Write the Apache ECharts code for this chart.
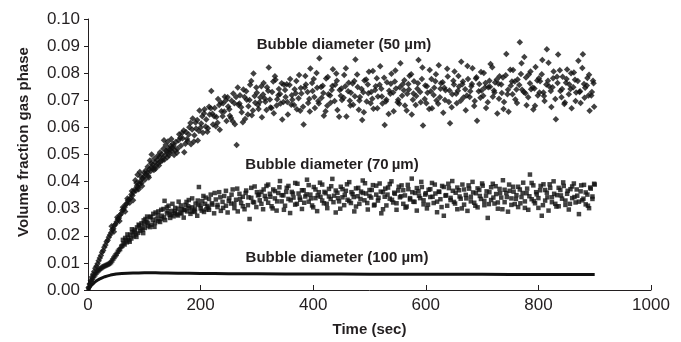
<!DOCTYPE html>
<html>
<head>
<meta charset="utf-8">
<script src="https://cdn.jsdelivr.net/npm/echarts@6/dist/echarts.min.js"></script>
<style>
html,body{margin:0;padding:0;background:#fff;}
#chart{width:681px;height:342px;}
</style>
</head>
<body>
<div id="chart"></div>
<script>
// ---------- data ----------
var xTicks = [0, 200, 400, 600, 800, 1000];
var yTicks = [0.00, 0.01, 0.02, 0.03, 0.04, 0.05, 0.06, 0.07, 0.08, 0.09, 0.10];
var seriesNames = ['Bubble diameter (50 \u00b5m)', 'Bubble diameter (70\u2009\u00b5m)', 'Bubble diameter (100 \u00b5m)'];

// 50 um : [time (s), volume fraction]
var d50 = [
[1,.0008],[3,.0022],[5,.0035],[7,.0048],[9,.0058],[11,.0068],[13,.0080],[15,.0088],[17,.0097],[19,.0108],
[21,.0118],[23,.0127],[25,.0139],[27,.0146],[29,.0158],[31,.0166],[33,.0178],[35,.0184],[37,.0195],[39,.0203],
[41,.0211],[43,.0222],[45,.0226],[47,.0238],[49,.0244],[51,.0252],[53,.0261],[55,.0266],[57,.0277],[59,.0281],
[61,.0293],[63,.0297],[65,.0305],[67,.0316],[69,.0318],[71,.0330],[73,.0334],[75,.0338],[77,.0352],[79,.0349],
[81,.0362],[83,.0371],[85,.0366],[87,.0384],[89,.0379],[91,.0392],[93,.0401],[95,.0395],[97,.0412],[99,.0418],
[101,.0407],[103,.0428],[105,.0433],[107,.0421],[109,.0446],[111,.0438],[113,.0452],[115,.0462],[117,.0443],[119,.0471],
[121,.0458],[123,.0480],[125,.0468],[127,.0492],[129,.0474],[131,.0501],[133,.0486],[135,.0553],[137,.0497],[139,.0514],
[141,.0490],[143,.0522],[145,.0506],[147,.0531],[149,.0512],[151,.0540],
[84,.0405],[88,.0425],[92,.0435],[110,.0478],[113,.0500],
[153,.0498],[156,.0546],[159,.0521],[162,.0575],[165,.0532],[168,.0560],[171,.0508],[174,.0583],[177,.0549],[180,.0601],
[183,.0538],[186,.0633],[189,.0571],[192,.0596],[195,.0552],[198,.0662],[201,.0614],[204,.0580],[207,.0667],[210,.0629],
[213,.0597],[216,.0648],[219,.0734],[222,.0611],[225,.0672],[228,.0638],[231,.0705],[234,.0591],[237,.0660],[240,.0689],
[243,.0713],[246,.0624],[249,.0677],[252,.0643],[255,.0698],[258,.0725],[261,.0612],[264,.0535],[267,.0684],[270,.0719],
[273,.0656],[276,.0740],[279,.0631],[282,.0702],[285,.0678],[288,.0757],[291,.0645],[294,.0799],[297,.0691],[300,.0728],
[303,.0668],[306,.0710],[309,.0637],[312,.0764],[315,.0695],[318,.0748],[321,.0821],[324,.0673],[327,.0731],[330,.0652],
[333,.0776],[336,.0704],[339,.0742],[342,.0688],[345,.0629],[348,.0757],
[155,.0515],[161,.0553],[167,.0579],[173,.0540],[179,.0574],[185,.0592],[191,.0618],[197,.0587],[203,.0641],[209,.0603],
[215,.0676],[221,.0650],[227,.0604],[233,.0683],[239,.0641],[245,.0700],[251,.0667],[257,.0623],[263,.0712],[269,.0688],
[275,.0619],[281,.0733],[287,.0701],[293,.0662],[299,.0747],[305,.0694],[311,.0721],[317,.0664],[323,.0703],[329,.0769],
[335,.0681],[341,.0723],[347,.0694],
[351,.0712],[355,.0648],[359,.0779],[363,.0702],[367,.0741],[371,.0667],[375,.0793],[379,.0725],[383,.0611],[387,.0758],
[391,.0690],[395,.0817],[399,.0734],[403,.0672],[407,.0746],[411,.0855],[415,.0709],[419,.0643],[423,.0780],[427,.0722],
[431,.0691],[435,.0815],[439,.0757],[443,.0664],[447,.0738],[451,.0701],[455,.0793],[459,.0640],[463,.0765],[467,.0728],
[471,.0684],[475,.0851],[479,.0749],[483,.0712],[487,.0627],[491,.0773],[495,.0696],[499,.0805],[503,.0731],[507,.0669],
[511,.0752],[515,.0714],[519,.0826],[523,.0688],[527,.0609],[531,.0767],[535,.0735],[539,.0798],[543,.0660],[547,.0744],
[551,.0702],[555,.0837],[559,.0759],[563,.0681],[567,.0724],[571,.0791],[575,.0648],[579,.0770],[583,.0716],[587,.0849],
[591,.0693],[595,.0607],[599,.0755],[603,.0728],[607,.0812],[611,.0671],[615,.0746],[619,.0699],[623,.0829],[627,.0763],
[631,.0654],[635,.0737],[639,.0788],[643,.0615],[647,.0722],[651,.0806],[655,.0689],[659,.0751],[663,.0842],[667,.0710],
[671,.0663],[675,.0779],[679,.0733],[683,.0818],[687,.0697],[691,.0625],[695,.0760],[699,.0736],[703,.0801],[707,.0672],
[711,.0748],[715,.0834],[719,.0713],[723,.0766],[727,.0651],[731,.0789],[735,.0727],[739,.0694],[743,.0871],[747,.0658],
[751,.0754],[755,.0812],[759,.0703],[763,.0777],[767,.0914],[771,.0739],[775,.0860],[779,.0682],[783,.0795],[787,.0741],
[791,.0666],[795,.0823],[799,.0718],[803,.0770],[807,.0849],[811,.0697],[815,.0888],[819,.0752],[823,.0675],[827,.0806],
[831,.0630],[835,.0869],[839,.0734],[843,.0787],[847,.0692],[851,.0814],[855,.0758],[859,.0671],[863,.0803],[867,.0729],
[871,.0846],[875,.0690],[879,.0870],[883,.0746],[887,.0782],[891,.0661],[895,.0731],[899,.0676],
[353,.0759],[361,.0684],[369,.0726],[377,.0661],[385,.0747],[393,.0705],[401,.0779],[409,.0697],[417,.0754],[425,.0680],
[433,.0738],[441,.0799],[449,.0717],[457,.0752],[465,.0698],[473,.0771],[481,.0665],[489,.0730],[497,.0758],[505,.0706],
[513,.0781],[521,.0743],[529,.0696],[537,.0724],[545,.0769],[553,.0687],[561,.0737],[569,.0760],[577,.0702],[585,.0743],
[593,.0779],[601,.0689],[609,.0733],[617,.0770],[625,.0711],[633,.0746],[641,.0694],[649,.0772],[657,.0735],[665,.0759],
[673,.0718],[681,.0752],[689,.0780],[697,.0709],[705,.0747],[713,.0772],[721,.0736],[729,.0761],[737,.0784],[745,.0722],
[753,.0769],[761,.0740],[769,.0797],[777,.0726],[785,.0763],[793,.0744],[801,.0781],[809,.0729],[817,.0772],[825,.0748],
[833,.0787],[841,.0711],[849,.0765],[857,.0742],[865,.0776],[873,.0731],[881,.0760],[889,.0718],[897,.0772]
];
// 50 um : further points of the same cloud
var d50more = [
[42,.0235],[46,.0215],[52,.0268],[56,.0255],[62,.0305],[66,.0290],[70,.0338],[74,.0322],[78,.0365],[80,.0331],
[86,.0395],[90,.0372],[94,.0418],[96,.0384],[100,.0432],[102,.0440],[106,.0455],[108,.0415],[112,.0468],[116,.0449],
[118,.0485],[120,.0447],[124,.0495],[126,.0459],[128,.0508],[132,.0478],[134,.0521],[136,.0482],[138,.0535],[140,.0509],
[142,.0548],[144,.0497],[146,.0519],[148,.0557],[150,.0526],
[152,.0531],[158,.0506],[164,.0562],[170,.0589],[176,.0557],[182,.0616],[188,.0548],[194,.0627],[200,.0600],[206,.0652],
[212,.0584],[218,.0671],[224,.0641],[230,.0617],[236,.0692],[242,.0659],[248,.0711],[254,.0635],[260,.0689],[266,.0747],
[272,.0674],[278,.0712],[284,.0648],[290,.0771],[296,.0716],[302,.0683],[308,.0752],[314,.0707],[320,.0735],[326,.0672],
[332,.0789],[338,.0719],[344,.0763],
[350,.0738],[354,.0694],[358,.0756],[362,.0719],[366,.0683],[370,.0771],[374,.0708],[378,.0745],[382,.0676],[386,.0790],
[390,.0731],[394,.0659],[398,.0764],[402,.0712],[406,.0801],[410,.0688],[414,.0749],[418,.0727],[422,.0660],[426,.0786],
[430,.0718],[434,.0753],[438,.0697],[442,.0772],[446,.0639],[450,.0744],[454,.0709],[458,.0818],[462,.0733],[466,.0681],
[470,.0762],[474,.0715],[478,.0795],[482,.0699],[486,.0742],[490,.0656],[494,.0777],[498,.0726],[502,.0689],[506,.0808],
[510,.0738],[514,.0671],[518,.0757],[522,.0714],[526,.0783],[530,.0702],[534,.0649],[538,.0761],[542,.0729],[546,.0810],
[550,.0693],[554,.0748],[558,.0717],[562,.0774],[566,.0662],[570,.0740],[574,.0796],[578,.0725],[582,.0683],[586,.0763],
[590,.0731],[594,.0821],[598,.0705],[602,.0752],[606,.0668],[610,.0779],[614,.0720],[618,.0796],[622,.0687],[626,.0743],
[630,.0767],[634,.0701],[638,.0816],[642,.0736],[646,.0674],[650,.0758],[654,.0724],[658,.0790],[662,.0698],[666,.0769],
[670,.0741],[674,.0827],[678,.0712],[682,.0760],[686,.0679],[690,.0785],[694,.0733],[698,.0804],[702,.0717],[706,.0764],
[710,.0693],[714,.0750],[718,.0822],[722,.0729],[726,.0777],[730,.0706],[734,.0758],[738,.0668],[742,.0792],[746,.0739],
[750,.0813],[754,.0722],[758,.0769],[762,.0690],[766,.0756],[770,.0837],[774,.0731],[778,.0784],[782,.0711],[786,.0806],
[790,.0747],[794,.0680],[798,.0773],[802,.0729],[806,.0796],[810,.0716],[814,.0758],[818,.0839],[822,.0734],[826,.0781],
[830,.0705],[834,.0764],[838,.0811],[842,.0742],[846,.0686],[850,.0779],[854,.0722],[858,.0800],[862,.0748],[866,.0697],
[870,.0771],[874,.0733],[878,.0819],[882,.0709],[886,.0755],[890,.0794],[894,.0718],[898,.0763]
];

// 70 um : [time (s), volume fraction]
var d70 = [
[1,.0006],[3,.0018],[5,.0028],[7,.0037],[9,.0045],[11,.0052],[13,.0058],[15,.0064],[17,.0069],[19,.0073],
[21,.0077],[23,.0080],[25,.0083],[27,.0086],[29,.0088],[31,.0090],[33,.0092],[35,.0094],[37,.0096],[39,.0099],
[41,.0103],[43,.0109],[45,.0116],[47,.0122],[49,.0128],[51,.0133],[53,.0141],[55,.0147],[57,.0151],[59,.0160],
[61,.0163],[63,.0172],[65,.0168],[67,.0183],[69,.0176],[71,.0193],[73,.0184],[75,.0204],[77,.0190],[79,.0213],
[81,.0198],[83,.0222],[85,.0205],[87,.0231],[89,.0211],[91,.0238],[93,.0218],[95,.0246],[97,.0223],[99,.0257],
[101,.0229],[104,.0252],[107,.0236],[110,.0268],[113,.0241],[116,.0281],[119,.0247],[122,.0262],[125,.0290],[128,.0251],
[131,.0274],[134,.0299],[137,.0258],[140,.0283],[143,.0311],[146,.0266],[149,.0292],[152,.0272],[155,.0303],[158,.0279],
[161,.0326],[164,.0285],[167,.0298],[170,.0267],[173,.0314],[176,.0290],[179,.0332],[182,.0281],[185,.0305],[188,.0293],
[191,.0319],[194,.0274],[197,.0380],[200,.0301],[203,.0328],[206,.0288],[209,.0341],[212,.0310],[215,.0296],[218,.0352],
[221,.0315],[224,.0283],[227,.0334],[230,.0306],[233,.0361],[236,.0292],[239,.0325],[242,.0347],[245,.0311],[248,.0286],
[251,.0338],[254,.0319],[257,.0371],[260,.0302],[263,.0333],[266,.0290],[269,.0355],[272,.0321],[275,.0344],[278,.0298],
[281,.0367],[284,.0313],[287,.0262],[290,.0340],[293,.0325],[296,.0382],[299,.0306],[302,.0349],
[62,.0185],[66,.0192],[70,.0205],[74,.0178],[78,.0224],[82,.0215],[86,.0196],[90,.0241],[94,.0229],[98,.0210],
[102,.0262],[106,.0248],[112,.0271],[118,.0233],[124,.0276],[130,.0262],[136,.0329],[142,.0291],[148,.0278],[154,.0290],
[160,.0300],[166,.0282],[172,.0295],[178,.0309],[184,.0289],[190,.0301],[196,.0315],[202,.0293],[208,.0318],[214,.0304],
[305,.0331],[308,.0362],[311,.0298],[314,.0347],[317,.0384],[320,.0322],[323,.0355],[326,.0309],[329,.0371],[332,.0338],
[335,.0293],[338,.0358],[341,.0402],[344,.0327],[347,.0349],[350,.0311],[353,.0377],[356,.0336],[359,.0284],[362,.0362],
[365,.0341],[368,.0395],[371,.0318],[374,.0356],[377,.0333],[380,.0299],[383,.0368],[386,.0345],[389,.0407],[392,.0326],
[395,.0352],[398,.0312],[401,.0380],[404,.0339],[407,.0291],[410,.0361],[413,.0344],[416,.0389],[419,.0320],[422,.0357],
[425,.0302],[428,.0373],[431,.0336],[434,.0410],[437,.0348],[440,.0286],[443,.0359],[446,.0327],[449,.0381],[452,.0342],
[455,.0313],[458,.0366],[461,.0333],[464,.0398],[467,.0321],[470,.0354],[473,.0290],[476,.0375],[479,.0346],[482,.0318],
[485,.0363],[488,.0404],[491,.0331],[494,.0356],[497,.0297],[500,.0369],[503,.0341],[506,.0387],[509,.0315],[512,.0352],
[515,.0330],[518,.0393],[521,.0283],[524,.0361],[527,.0344],[530,.0312],[533,.0378],[536,.0337],[539,.0401],[542,.0323],
[545,.0355],[548,.0296],[551,.0367],[554,.0342],[557,.0386],[560,.0318],[563,.0349],[566,.0308],[569,.0372],[572,.0334],
[575,.0411],[578,.0326],[581,.0358],[584,.0293],[587,.0365],[590,.0339],[593,.0380],[596,.0316],[599,.0352],[602,.0301],
[605,.0370],[608,.0343],[611,.0395],[614,.0321],[617,.0356],[620,.0287],[623,.0363],[626,.0335],[629,.0384],[632,.0274],
[635,.0348],[638,.0311],[641,.0376],[644,.0340],[647,.0402],[650,.0325],[653,.0359],[656,.0298],[659,.0368],[662,.0337],
[665,.0389],[668,.0315],[671,.0351],[674,.0292],[677,.0374],[680,.0344],[683,.0399],[686,.0322],[689,.0357],[692,.0305],
[695,.0369],[698,.0336],[701,.0385],[704,.0313],[707,.0348],[710,.0266],[713,.0361],[716,.0332],[719,.0392],[722,.0319],
[725,.0354],[728,.0300],[731,.0373],[734,.0341],[737,.0405],[740,.0324],[743,.0358],[746,.0289],[749,.0366],[752,.0338],
[755,.0381],[758,.0317],[761,.0350],[764,.0306],[767,.0371],[770,.0343],[773,.0396],[776,.0327],[779,.0357],[782,.0296],
[785,.0426],[788,.0335],[791,.0386],[794,.0320],[797,.0353],[800,.0303],[803,.0368],[806,.0274],[809,.0390],[812,.0330],
[815,.0359],[818,.0293],[821,.0377],[824,.0342],[827,.0401],[830,.0318],[833,.0350],[836,.0309],[839,.0369],[842,.0337],
[845,.0384],[848,.0314],[851,.0355],[854,.0297],[857,.0372],[860,.0339],[863,.0393],[866,.0323],[869,.0348],[872,.0280],
[875,.0364],[878,.0331],[881,.0388],[884,.0316],[887,.0352],[890,.0302],[893,.0374],[896,.0336],[899,.0392]
];
// 70 um : further points of the same cloud
var d70more = [
[100,.0244],[105,.0271],[110,.0232],[115,.0259],[120,.0286],[125,.0254],[130,.0296],[135,.0268],[140,.0305],[145,.0277],
[150,.0318],[155,.0284],[160,.0275],[165,.0312],[170,.0296],[175,.0325],[180,.0302],[185,.0338],[190,.0288],[195,.0330],
[200,.0312],[205,.0347],[210,.0297],[215,.0336],[220,.0320],[225,.0358],[230,.0314],[235,.0342],[240,.0303],[245,.0366],
[250,.0329],[255,.0352],[260,.0318],[265,.0374],[270,.0336],[275,.0309],[280,.0358],[285,.0342],[290,.0377],[295,.0323],
[300,.0361],
[304,.0352],[308,.0318],[312,.0371],[316,.0336],[320,.0389],[324,.0344],[328,.0301],[332,.0365],[336,.0327],[340,.0379],
[344,.0350],[348,.0296],[352,.0362],[356,.0384],[360,.0331],[364,.0356],[368,.0315],[372,.0392],[376,.0341],[380,.0368],
[384,.0322],[388,.0353],[392,.0387],[396,.0338],[400,.0305],[404,.0371],[408,.0349],[412,.0396],[416,.0330],[420,.0362],
[424,.0318],[428,.0345],[432,.0383],[436,.0324],[440,.0367],[444,.0339],[448,.0300],[452,.0372],[456,.0351],[460,.0390],
[464,.0328],[468,.0361],[472,.0343],[476,.0308],[480,.0377],[484,.0336],[488,.0358],[492,.0394],[496,.0321],[500,.0347],
[504,.0369],[508,.0312],[512,.0385],[516,.0340],[520,.0363],[524,.0298],[528,.0374],[532,.0352],[536,.0391],[540,.0333],
[544,.0359],[548,.0320],[552,.0381],[556,.0346],[560,.0368],[564,.0304],[568,.0388],[572,.0339],[576,.0361],[580,.0325],
[584,.0376],[588,.0348],[592,.0399],[596,.0331],[600,.0357],[604,.0315],[608,.0372],[612,.0344],[616,.0389],[620,.0326],
[624,.0362],[628,.0306],[632,.0380],[636,.0350],[640,.0392],[644,.0332],[648,.0366],[652,.0319],[656,.0378],[660,.0345],
[664,.0301],[668,.0371],[672,.0338],[676,.0386],[680,.0327],[684,.0360],[688,.0311],[692,.0375],[696,.0347],[700,.0393],
[704,.0329],[708,.0364],[712,.0317],[716,.0379],[720,.0341],[724,.0383],[728,.0323],[732,.0357],[736,.0298],[740,.0370],
[744,.0343],[748,.0389],[752,.0314],[756,.0363],[760,.0336],[764,.0381],[768,.0320],[772,.0358],[776,.0303],[780,.0374],
[784,.0346],[788,.0395],[792,.0328],[796,.0361],[800,.0339],[804,.0384],[808,.0313],[812,.0369],[816,.0342],[820,.0390],
[824,.0324],[828,.0355],[832,.0308],[836,.0377],[840,.0349],[844,.0397],[848,.0330],[852,.0366],[856,.0318],[860,.0382],
[864,.0343],[868,.0371],[872,.0326],[876,.0386],[880,.0337],[884,.0360],[888,.0311],[892,.0378],[896,.0345],[900,.0389]
];

// 100 um : [time (s), volume fraction]
var d100 = [
[0,0],[4,.0012],[8,.0021],[12,.0029],[16,.0035],[20,.0040],[25,.0045],[30,.0049],[35,.0052],[40,.0055],
[45,.0057],[50,.0059],[60,.0061],[70,.0062],[80,.0063],[90,.0063],[100,.0064],[110,.0064],[120,.0064],[130,.0063],
[140,.0063],[160,.0062],[180,.0062],[200,.0061],[225,.0061],[250,.0060],[275,.0060],[300,.0060],[350,.0059],[400,.0059],
[450,.0059],[500,.0058],[550,.0058],[600,.0058],[650,.0058],[700,.0058],[750,.0057],[800,.0057],[850,.0057],[900,.0057]
];

// ---------- chart ----------
var FONT = '"Liberation Sans", Arial, Helvetica, sans-serif';
var INK = '#231f20';
var MARK = '#111111';
var chart = echarts.init(document.getElementById('chart'), null, {renderer: 'canvas'});
chart.setOption({
  animation: false,
  backgroundColor: '#ffffff',
  textStyle: {fontFamily: FONT, color: INK},
  grid: {left: 88, right: 30, top: 19, bottom: 52, containLabel: false},
  xAxis: {
    type: 'value', min: xTicks[0], max: xTicks[xTicks.length - 1], interval: xTicks[1] - xTicks[0],
    name: 'Time (sec)', nameLocation: 'middle', nameGap: 32,
    nameTextStyle: {fontFamily: FONT, fontWeight: 'bold', fontSize: 15, color: INK},
    axisLine: {show: true, lineStyle: {color: INK, width: 1}},
    axisTick: {show: true, inside: true, length: 5, lineStyle: {color: INK}},
    axisLabel: {fontFamily: FONT, fontSize: 17, color: INK, margin: 7,
      formatter: function (v) { return String(v); }},
    splitLine: {show: false}
  },
  yAxis: {
    type: 'value', min: yTicks[0], max: yTicks[yTicks.length - 1], interval: 0.01,
    axisLine: {show: true, lineStyle: {color: INK, width: 1}},
    axisTick: {show: true, inside: false, length: 4, lineStyle: {color: INK}},
    axisLabel: {fontFamily: FONT, fontSize: 17, color: INK, margin: 8,
      formatter: function (v) { return v.toFixed(2); }},
    splitLine: {show: false}
  },
  graphic: [
    {type: 'text', x: 24, y: 142, rotation: Math.PI / 2,
     style: {text: 'Volume fraction gas phase', font: 'bold 15px ' + FONT, fill: INK,
             textAlign: 'center', textVerticalAlign: 'middle'}},
    {type: 'text', x: 344, y: 45,
     style: {text: seriesNames[0], font: 'bold 15px ' + FONT, fill: INK, textAlign: 'center', textVerticalAlign: 'middle'}},
    {type: 'text', x: 332, y: 165,
     style: {text: seriesNames[1], font: 'bold 15px ' + FONT, fill: INK, textAlign: 'center', textVerticalAlign: 'middle'}},
    {type: 'text', x: 337, y: 258,
     style: {text: seriesNames[2], font: 'bold 15px ' + FONT, fill: INK, textAlign: 'center', textVerticalAlign: 'middle'}}
  ],
  series: [
    {name: seriesNames[2], type: 'line', data: d100, showSymbol: false, smooth: false,
     lineStyle: {color: MARK, width: 3}, z: 3},
    {name: seriesNames[1], type: 'scatter', data: d70.concat(d70more), symbol: 'rect', symbolSize: 4.5,
     itemStyle: {color: MARK}, z: 4},
    {name: seriesNames[0], type: 'scatter', data: d50.concat(d50more), symbol: 'diamond', symbolSize: 6.5,
     itemStyle: {color: MARK}, z: 5}
  ]
});
</script>
</body>
</html>
